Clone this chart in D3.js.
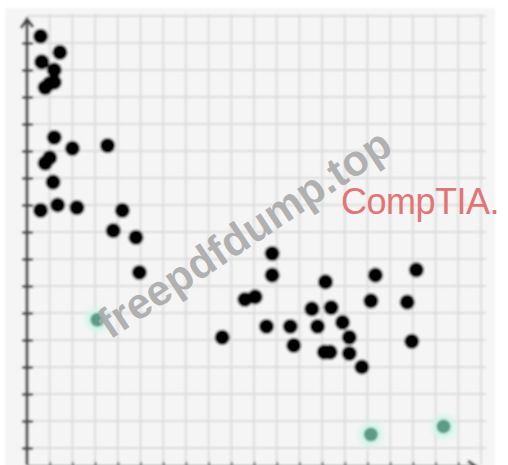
<!DOCTYPE html>
<html>
<head>
<meta charset="utf-8">
<script src="https://cdn.jsdelivr.net/npm/d3@7"></script>
<style>
html,body{margin:0;padding:0;background:#fff;}
svg{display:block;}
</style>
</head>
<body>
<svg id="chart" width="508" height="465"></svg>
<script>
// ---- data (grid units) ----
const blackX = [0.6, 1.45, 0.65, 1.2, 1.2, 0.8, 1.0,
  1.2, 2.0, 3.55, 0.8, 1.0, 1.15, 0.6, 1.35, 2.2, 4.2, 3.8, 4.8, 4.95,
  8.6, 9.6, 10.05, 10.8, 10.8, 10.55, 11.6, 11.75, 13.15, 12.55, 13.4, 12.8,
  13.9, 14.2, 14.2, 13.1, 13.35, 14.75, 15.35, 15.15, 17.15, 16.75, 16.95];
const blackY = [16.25, 15.65, 15.3, 15.0, 14.55, 14.35, 14.5,
  12.5, 12.1, 12.2, 11.55, 11.75, 10.85, 9.8, 10.0, 9.9, 9.8, 9.05, 8.8, 7.5,
  5.1, 6.5, 6.6, 8.2, 7.4, 5.5, 5.5, 4.8, 7.15, 6.15, 6.2, 5.5,
  5.65, 5.1, 4.5, 4.55, 4.55, 4.0, 7.4, 6.45, 7.6, 6.4, 4.95];
const greenX = [3.1, 15.15, 18.35];
const greenY = [5.75, 1.5, 1.8];
const xTicks = [1,2,3,4,5,6,7,8,9,10,11,12,13,14,15,16,17,18,19,20];
const yTicks = [1,2,3,4,5,6,7,8,9,10,11,12,13,14,15,16,17];
const watermark = "freepdfdump.top";
const brand = "CompTIA.";

// ---- layout ----
const svg = d3.select("#chart");
const x = d3.scaleLinear().domain([0, 20]).range([27, 481]);
const y = d3.scaleLinear().domain([0, 17]).range([475, 16]);

const defs = svg.append("defs");
defs.append("filter").attr("id", "soft").attr("x", "-5%").attr("y", "-5%").attr("width", "110%").attr("height", "110%")
  .append("feGaussianBlur").attr("stdDeviation", 1.0);
const glow = defs.append("filter").attr("id", "glow").attr("x", "-100%").attr("y", "-100%").attr("width", "300%").attr("height", "300%");
glow.append("feGaussianBlur").attr("stdDeviation", 2.5);

const g = svg.append("g").attr("filter", "url(#soft)");

g.append("rect").attr("x", 5).attr("y", 8).attr("width", 490).attr("height", 460).attr("fill", "#f5f5f5");

// grid
g.append("g").selectAll("line").data(xTicks).join("line")
  .attr("x1", d => x(d)).attr("x2", d => x(d)).attr("y1", 14).attr("y2", 465)
  .attr("stroke", "#dcdcdc").attr("stroke-width", 2);
g.append("g").selectAll("line").data(yTicks).join("line")
  .attr("x1", 27).attr("x2", 486).attr("y1", d => y(d)).attr("y2", d => y(d))
  .attr("stroke", "#dcdcdc").attr("stroke-width", 2);

// y axis
const ya = g.append("g").attr("transform", "translate(27,0)")
  .call(d3.axisLeft(y).tickValues(yTicks.slice(0, 16)).tickSize(6).tickFormat(""));
ya.select(".domain").remove();
ya.selectAll(".tick line").attr("x1", -5).attr("x2", 6).attr("stroke", "#555").attr("stroke-width", 3);
g.append("line").attr("x1", 27).attr("x2", 27).attr("y1", 20).attr("y2", 465)
  .attr("stroke", "#444").attr("stroke-width", 3);
g.append("path").attr("d", "M21,28 L27,19 L33,27").attr("fill", "none")
  .attr("stroke", "#444").attr("stroke-width", 3);

// x axis
const xa = g.append("g").attr("transform", "translate(0,466)")
  .call(d3.axisBottom(x).tickValues(xTicks.slice(0, 19)).tickSize(4).tickFormat(""));
xa.select(".domain").remove();
xa.selectAll(".tick line").attr("y1", -4).attr("y2", 4).attr("stroke", "#666").attr("stroke-width", 2);
g.append("line").attr("x1", 27).attr("x2", 476).attr("y1", 467).attr("y2", 467)
  .attr("stroke", "#4a4a4a").attr("stroke-width", 3);
g.append("path").attr("d", "M468,461 L477,467 L468,473").attr("fill", "none")
  .attr("stroke", "#4a4a4a").attr("stroke-width", 3);

// points
const green = greenX.map((v, i) => ({x: v, y: greenY[i]}));
g.append("g").selectAll("circle").data(green).join("circle")
  .attr("cx", d => x(d.x)).attr("cy", d => y(d.y)).attr("r", 12)
  .attr("fill", "#d2f5e8").attr("filter", "url(#glow)");
g.append("g").selectAll("circle").data(green).join("circle")
  .attr("cx", d => x(d.x)).attr("cy", d => y(d.y)).attr("r", 7)
  .attr("fill", "#5b9c86");

const black = blackX.map((v, i) => ({x: v, y: blackY[i]}));
g.append("g").selectAll("circle").data(black).join("circle")
  .attr("cx", d => x(d.x)).attr("cy", d => y(d.y)).attr("r", 7.6)
  .attr("fill", "#050505");

// watermarks
svg.append("text").attr("transform", "translate(110,340) rotate(-33.5)")
  .attr("font-family", "Liberation Sans, Arial, sans-serif").attr("font-weight", "bold")
  .attr("font-size", 43).attr("fill", "#aaaaaa").attr("fill-opacity", 0.92)
  .text(watermark);
svg.append("text").attr("x", 341).attr("y", 214)
  .attr("font-family", "Liberation Sans, Arial, sans-serif")
  .attr("font-size", 36).attr("fill", "#e27474").attr("letter-spacing", -0.5)
  .text(brand);
</script>
</body>
</html>
